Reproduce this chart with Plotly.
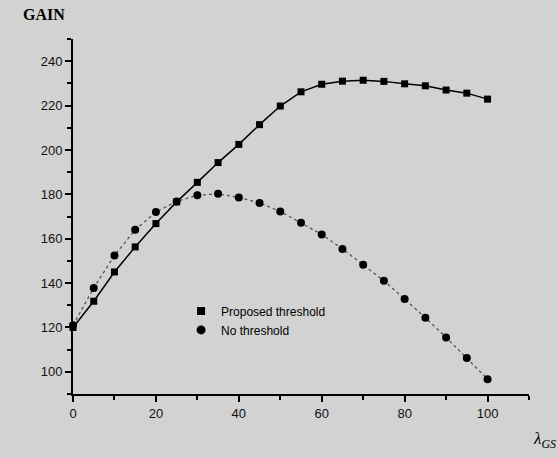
import plotly.graph_objects as go

lam = [0, 5, 10, 15, 20, 25, 30, 35, 40, 45, 50, 55, 60, 65, 70, 75, 80, 85, 90, 95, 100]
proposed = [120, 131.8, 145, 156.3, 166.8, 176.6, 185.4, 194.3, 202.5, 211.4, 219.8,
            226.2, 229.6, 231, 231.4, 230.9, 229.8, 228.9, 227, 225.6, 222.9]
no_thr = [121, 137.8, 152.4, 164, 172, 176.8, 179.6, 180.2, 178.6, 176.1, 172.3,
          167.2, 161.9, 155.4, 148.3, 141, 132.8, 124.4, 115.5, 106.2, 96.7]

x_ticks = [0, 20, 40, 60, 80, 100]
y_ticks = [100, 120, 140, 160, 180, 200, 220, 240]

bg = "#d2d2d2"
fig = go.Figure()
fig.add_trace(go.Scatter(x=lam, y=no_thr, mode="lines+markers",
                         line=dict(color="#555", width=1.3, dash="dot"),
                         marker=dict(symbol="circle", size=8, color="black"),
                         showlegend=False, cliponaxis=False))
fig.add_trace(go.Scatter(x=lam, y=proposed, mode="lines+markers",
                         line=dict(color="black", width=1.5),
                         marker=dict(symbol="square", size=7, color="black"),
                         showlegend=False, cliponaxis=False))
fig.add_trace(go.Scatter(x=[None], y=[None], mode="markers", name="Proposed threshold",
                         marker=dict(symbol="square", size=8, color="black")))
fig.add_trace(go.Scatter(x=[None], y=[None], mode="markers", name="No threshold",
                         marker=dict(symbol="circle", size=9, color="black")))

axis_common = dict(showgrid=False, zeroline=False, showline=True, linecolor="black",
                   linewidth=2, ticks="outside", ticklen=6, tickwidth=2, tickcolor="black",
                   tickfont=dict(family="Liberation Sans", size=13, color="#111"))
fig.update_xaxes(range=[0, 110], tickvals=x_ticks,
                 minor=dict(ticks="outside", ticklen=4, tickwidth=2, dtick=10, tickcolor="black"),
                 **axis_common)
fig.update_yaxes(range=[90, 250], tickvals=y_ticks,
                 minor=dict(ticks="outside", ticklen=4, tickwidth=2, dtick=10, tickcolor="black"),
                 **axis_common)

fig.add_annotation(text="<b>GAIN</b>", xref="paper", yref="paper", x=-0.064, y=1.068,
                   xanchor="center", yanchor="middle", showarrow=False,
                   font=dict(family="Liberation Serif", size=16, color="black"))
fig.add_annotation(text="<i>λ<sub>GS</sub></i>", xref="paper", yref="paper", x=1.033, y=-0.13,
                   xanchor="center", yanchor="middle", showarrow=False,
                   font=dict(family="Liberation Serif", size=17, color="black"))

fig.update_layout(width=558, height=458, paper_bgcolor=bg, plot_bgcolor=bg,
                  margin=dict(l=73, r=29, t=39, b=64),
                  legend=dict(x=0.237, y=0.275, xanchor="left", yanchor="top",
                              bgcolor="rgba(0,0,0,0)", tracegroupgap=2, itemwidth=30,
                              font=dict(family="Liberation Sans", size=12, color="black")))

fig.write_html("out.html", config={"displayModeBar": False},
               post_script="document.body.style.margin='0';document.body.style.padding='0';")
